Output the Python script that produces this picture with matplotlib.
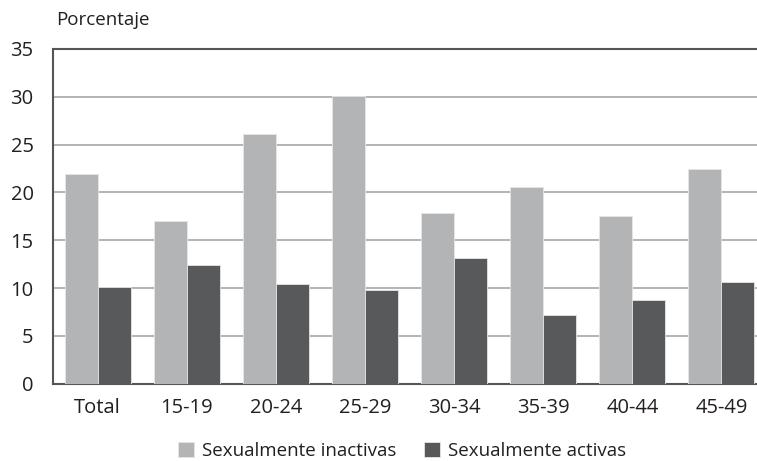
import numpy as np
import matplotlib.pyplot as plt

plt.rcParams['font.family'] = ['Open Sans', 'DejaVu Sans']

# datos
grupos = ['Total', '15-19', '20-24', '25-29', '30-34', '35-39', '40-44', '45-49']
inactivas = [21.9, 17.0, 26.1, 30.1, 17.9, 20.6, 17.5, 22.4]
activas = [10.1, 12.4, 10.4, 9.8, 13.1, 7.2, 8.8, 10.6]

W, H = 757, 461
fig = plt.figure(figsize=(W / 100, H / 100), dpi=100)
# el area del grafico queda cortada a la derecha
ax = fig.add_axes([53 / W, (H - 383.7) / H, (766 - 53) / W, (383.7 - 49) / H])

x = np.arange(len(grupos))
ancho = 0.37
ax.bar(x - ancho / 2, inactivas, ancho, color='#b3b4b6', edgecolor='#e6e6e6',
       linewidth=0.6, label='Sexualmente inactivas', zorder=3)
ax.bar(x + ancho / 2, activas, ancho, color='#58595b', edgecolor='#e6e6e6',
       linewidth=0.6, label='Sexualmente activas', zorder=3)

ax.set_xlim(-0.5, len(grupos) - 0.5)
ax.set_ylim(0, 35)
ax.set_yticks(np.arange(0, 36, 5))
ax.set_xticks(x)
ax.set_xticklabels(grupos)
ax.tick_params(axis='both', length=0, labelsize=14.5, colors='#231f20')
ax.tick_params(axis='x', pad=10)
ax.tick_params(axis='y', pad=14)
ax.yaxis.grid(True, color='#a7a7a7', linewidth=1.2, zorder=0)

ax.spines['right'].set_visible(False)
for s in ['top', 'left', 'bottom']:
    ax.spines[s].set_color('#555555')
    ax.spines[s].set_linewidth(1.5)

fig.text(56 / W, 1 - 20 / H, 'Porcentaje', fontsize=13.5, color='#231f20', va='center')

fig.legend(loc='center', bbox_to_anchor=(402 / W, 1 - 451 / H), ncol=2,
           frameon=False, fontsize=13.5, handlelength=0.85, handleheight=0.85,
           handletextpad=0.4, columnspacing=1.5, labelcolor='#231f20')

fig.savefig('out.png', dpi=100)
